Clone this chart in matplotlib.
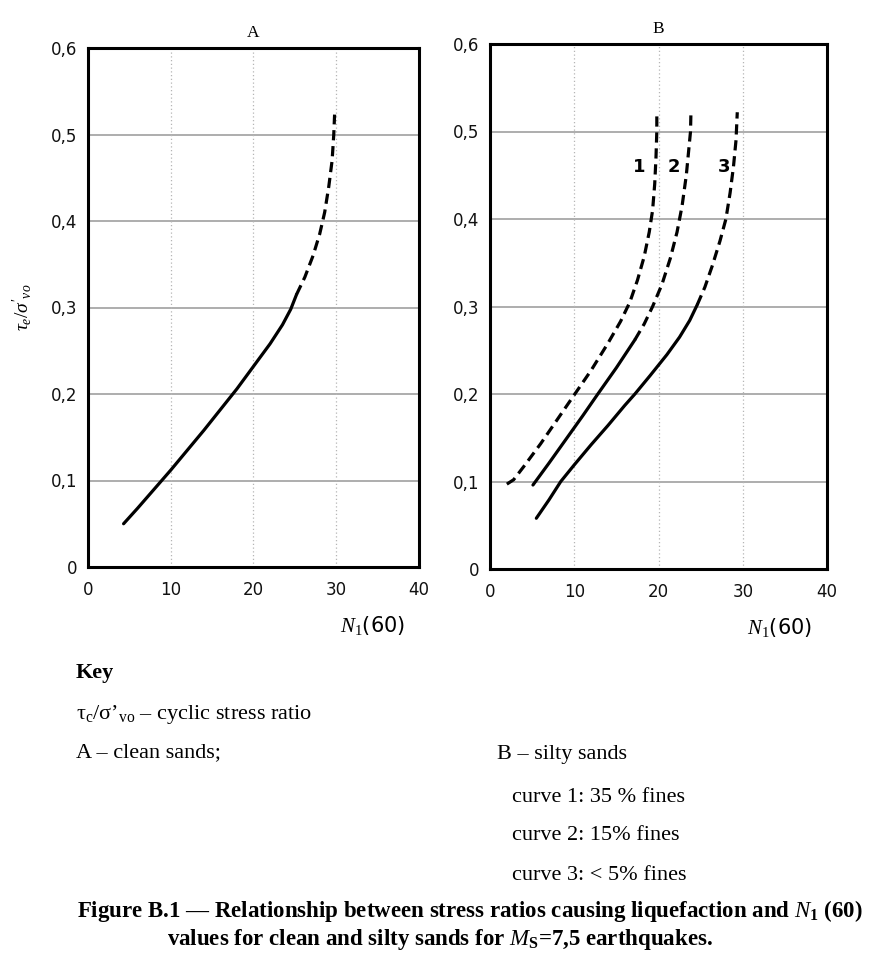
import matplotlib
matplotlib.use("Agg")
import matplotlib.pyplot as plt
from matplotlib.ticker import FuncFormatter

plt.rcParams["mathtext.fontset"] = "custom"
plt.rcParams["mathtext.rm"] = "Liberation Serif"
plt.rcParams["mathtext.it"] = "Liberation Serif:italic"
plt.rcParams["mathtext.bf"] = "Liberation Serif:bold"

# panel A - clean sands
a_solid_x = [4.3, 6.0, 8.0, 10.0, 12.0, 14.0, 16.0, 18.0, 20.0, 22.0, 23.5, 24.5, 25.2]
a_solid_y = [0.05, 0.068, 0.09, 0.112, 0.135, 0.158, 0.182, 0.206, 0.232, 0.258, 0.28, 0.298, 0.315]
a_dash_x = [25.2, 26.2, 27.2, 28.0, 28.6, 29.1, 29.5, 29.7, 29.8]
a_dash_y = [0.315, 0.335, 0.36, 0.385, 0.41, 0.44, 0.47, 0.50, 0.523]

# panel B - silty sands
c1_x = [2.0, 2.8, 4.0, 6.0, 8.0, 10.0, 12.0, 14.0, 15.5, 16.6, 17.5, 18.3, 18.9, 19.3, 19.55, 19.7, 19.8, 19.8]
c1_y = [0.097, 0.102, 0.117, 0.143, 0.171, 0.199, 0.227, 0.258, 0.283, 0.305, 0.33, 0.357, 0.385, 0.41, 0.44, 0.47, 0.50, 0.522]
c2_solid_x = [5.1, 7.0, 9.0, 11.0, 12.8, 15.0, 17.2]
c2_solid_y = [0.096, 0.121, 0.148, 0.175, 0.20, 0.23, 0.262]
c2_dash_x = [17.2, 18.3, 19.3, 20.4, 21.4, 22.2, 22.8, 23.3, 23.6, 23.8, 23.85]
c2_dash_y = [0.262, 0.28, 0.30, 0.325, 0.355, 0.385, 0.415, 0.45, 0.48, 0.50, 0.522]
c3_solid_x = [5.5, 7.0, 8.4, 10.0, 12.0, 14.0, 16.0, 17.2, 19.0, 21.0, 22.5, 23.7, 24.6]
c3_solid_y = [0.058, 0.079, 0.10, 0.119, 0.142, 0.164, 0.187, 0.20, 0.221, 0.245, 0.265, 0.284, 0.302]
c3_dash_x = [24.6, 25.5, 26.4, 27.3, 28.0, 28.5, 28.9, 29.2, 29.35]
c3_dash_y = [0.302, 0.322, 0.347, 0.375, 0.40, 0.43, 0.46, 0.49, 0.522]

curve_labels = ["1", "2", "3"]
curve_label_x = [17.7, 21.8, 27.8]
curve_label_y = [0.46, 0.46, 0.46]

x_ticks = [0, 10, 20, 30, 40]
y_ticks = [0, 0.1, 0.2, 0.3, 0.4, 0.5, 0.6]

W, H = 873, 965
fig = plt.figure(figsize=(W / 100, H / 100), dpi=100)
fig.patch.set_facecolor("white")


def px_axes(x0, y0, x1, y1):
    # rectangle given in pixels from the top-left corner
    return fig.add_axes([x0 / W, 1 - y1 / H, (x1 - x0) / W, (y1 - y0) / H])


def comma(v, pos):
    s = "%g" % v
    return s.replace(".", ",")


def style(ax, title):
    ax.set_xlim(0, 40)
    ax.set_ylim(0, 0.6)
    ax.set_xticks(x_ticks)
    ax.set_yticks(y_ticks)
    ax.yaxis.set_major_formatter(FuncFormatter(comma))
    ax.tick_params(length=0, labelsize=12, labelcolor="#111111")
    ax.tick_params(axis="y", pad=8)
    ax.tick_params(axis="x", pad=10)
    for s in ax.spines.values():
        s.set_linewidth(2.2)
        s.set_color("black")
    for y in y_ticks[1:-1]:
        ax.axhline(y, color="#a0a0a0", lw=1.2, zorder=1)
    for x in x_ticks[1:-1]:
        ax.axvline(x, color="#b5b5b5", lw=0.9, ls=(0, (1, 2)), zorder=1)
    ax.set_title(title, family="Liberation Serif", fontsize=12.5, pad=8)
    ax.text(0.86, -0.112, r"$\mathit{N}_{1}$(60)", transform=ax.transAxes,
            fontsize=15, ha="center", va="center", family="DejaVu Sans")


lw = 2.3
dash = (3.2, 1.8)

axA = px_axes(88, 48, 419, 567)
style(axA, "A")
axA.plot(a_solid_x, a_solid_y, color="black", lw=lw, solid_capstyle="round",
         solid_joinstyle="round", zorder=3)
axA.plot(a_dash_x, a_dash_y, color="black", lw=lw, dashes=dash, zorder=3)
axA.set_ylabel(r"$\tau_e/\sigma'_{vo}$", fontsize=14, labelpad=12)

axB = px_axes(490, 44, 827, 569)
style(axB, "B")
axB.plot(c1_x, c1_y, color="black", lw=lw, dashes=dash, zorder=3)
axB.plot(c2_solid_x, c2_solid_y, color="black", lw=lw, solid_capstyle="round",
         solid_joinstyle="round", zorder=3)
axB.plot(c2_dash_x, c2_dash_y, color="black", lw=lw, dashes=dash, zorder=3)
axB.plot(c3_solid_x, c3_solid_y, color="black", lw=lw, solid_capstyle="round",
         solid_joinstyle="round", zorder=3)
axB.plot(c3_dash_x, c3_dash_y, color="black", lw=lw, dashes=dash, zorder=3)
for lab, x, y in zip(curve_labels, curve_label_x, curve_label_y):
    axB.text(x, y, lab, fontsize=13, fontweight="bold", ha="center", va="center",
             family="DejaVu Sans", zorder=4)


def ftext(x, y, s, **kw):
    fig.text(x / W, 1 - y / H, s, va="center", family="Liberation Serif", **kw)


# key below the plots
ftext(76, 673, "Key", fontsize=16, fontweight="bold")
ftext(76, 714, r"τ$_{\mathrm{c}}$/σ’$_{\mathrm{vo}}$ – cyclic stress ratio", fontsize=16)
ftext(76, 753, "A – clean sands;", fontsize=16)
ftext(497, 755, "B – silty sands", fontsize=16)
ftext(512, 797, "curve 1: 35 % fines", fontsize=16)
ftext(512, 835, "curve 2: 15% fines", fontsize=16)
ftext(512, 875, "curve 3: < 5% fines", fontsize=16)
ftext(470, 911, r"Figure B.1 — Relationship between stress ratios causing liquefaction and $\mathit{N}_{\mathbf{1}}$ (60)",
      fontsize=16.5, fontweight="bold", ha="center")
ftext(440, 940, r"values for clean and silty sands for $\mathit{M}_{\mathbf{S}}$=7,5 earthquakes.",
      fontsize=16.5, fontweight="bold", ha="center")

fig.savefig("out.png", dpi=100, facecolor="white")
